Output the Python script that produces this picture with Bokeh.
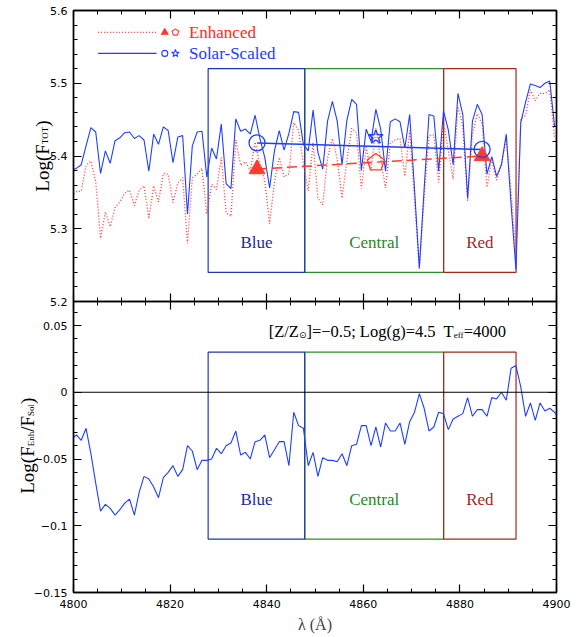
import numpy as np
from bokeh.plotting import figure
from bokeh.layouts import column
from bokeh.models import Range1d, LinearAxis, FixedTicker, Label, CustomJSTickFormatter, Span
from bokeh.core.properties import value
from bokeh.embed import file_html
from bokeh.resources import INLINE

# ------------------------------------------------------------------ data
wavelength = np.arange(4799.6, 4900.7, 1.0)   # 1 A sampling grid

flux_solar = [
    5.380, 5.383, 5.388, 5.414, 5.439, 5.433, 5.376, 5.407, 5.390, 5.421,
    5.425, 5.432, 5.433, 5.424, 5.428, 5.422, 5.379, 5.430, 5.416, 5.440,
    5.435, 5.391, 5.426, 5.428, 5.320, 5.414, 5.433, 5.434, 5.371, 5.411,
    5.396, 5.444, 5.362, 5.355, 5.451, 5.434, 5.437, 5.430, 5.456, 5.424,
    5.398, 5.356, 5.407, 5.435, 5.408, 5.431, 5.461, 5.460, 5.416, 5.407,
    5.463, 5.405, 5.382, 5.448, 5.475, 5.448, 5.388, 5.449, 5.478, 5.471,
    5.380, 5.437, 5.420, 5.464, 5.437, 5.379, 5.447, 5.451, 5.447, 5.411,
    5.457, 5.355, 5.246, 5.355, 5.457, 5.455, 5.379, 5.462, 5.436, 5.388,
    5.486, 5.457, 5.342, 5.448, 5.471, 5.457, 5.375, 5.399, 5.372, 5.388,
    5.430, 5.333, 5.244, 5.446, 5.474, 5.499, 5.497, 5.494, 5.500, 5.503,
    5.441, 5.439]

flux_enhanced = [
    5.345, 5.351, 5.352, 5.387, 5.393, 5.365, 5.287, 5.323, 5.303, 5.329,
    5.337, 5.349, 5.353, 5.332, 5.353, 5.359, 5.314, 5.359, 5.337, 5.376,
    5.375, 5.336, 5.363, 5.370, 5.280, 5.370, 5.375, 5.383, 5.320, 5.361,
    5.354, 5.398, 5.322, 5.317, 5.422, 5.387, 5.392, 5.380, 5.419, 5.388,
    5.366, 5.307, 5.364, 5.398, 5.371, 5.376, 5.446, 5.435, 5.389, 5.352,
    5.418, 5.342, 5.333, 5.397, 5.424, 5.396, 5.342, 5.394, 5.438, 5.432,
    5.355, 5.412, 5.380, 5.438, 5.396, 5.356, 5.418, 5.422, 5.424, 5.372,
    5.435, 5.340, 5.245, 5.343, 5.428, 5.429, 5.364, 5.446, 5.408, 5.368,
    5.468, 5.441, 5.338, 5.430, 5.458, 5.444, 5.357, 5.395, 5.367, 5.388,
    5.424, 5.351, 5.264, 5.450, 5.456, 5.491, 5.476, 5.486, 5.486, 5.491,
    5.426, 5.419]

log_ratio = [
    -0.035, -0.032, -0.036, -0.027, -0.046, -0.068, -0.089, -0.084, -0.087, -0.092,
    -0.088, -0.083, -0.080, -0.092, -0.075, -0.063, -0.065, -0.071, -0.079, -0.064,
    -0.060, -0.055, -0.063, -0.058, -0.040, -0.044, -0.058, -0.051, -0.051, -0.050,
    -0.042, -0.046, -0.040, -0.038, -0.029, -0.047, -0.045, -0.050, -0.037, -0.036,
    -0.032, -0.049, -0.043, -0.037, -0.037, -0.055, -0.015, -0.025, -0.027, -0.055,
    -0.045, -0.063, -0.049, -0.051, -0.051, -0.052, -0.046, -0.055, -0.040, -0.039,
    -0.025, -0.025, -0.040, -0.026, -0.041, -0.023, -0.029, -0.029, -0.023, -0.039,
    -0.022, -0.015, -0.001, -0.012, -0.029, -0.026, -0.015, -0.016, -0.028, -0.020,
    -0.018, -0.016, -0.004, -0.018, -0.013, -0.013, -0.018, -0.004, -0.005, 0.000,
    -0.006, 0.018, 0.020, 0.004, -0.018, -0.008, -0.021, -0.008, -0.014, -0.012,
    -0.015, -0.020]

band_names = ["Blue", "Central", "Red"]
band_lo = [4827.875, 4847.875, 4876.625]
band_hi = [4847.875, 4876.625, 4891.625]

cont_wave = [4838.0, 4884.6]
cont_solar = [5.418, 5.409]
cont_enhanced = [5.382, 5.400]
central_wave = [4862.6]
central_solar = [5.426]
central_enhanced = [5.391]

x_ticks = [4800, 4820, 4840, 4860, 4880, 4900]
x_tick_labels = ["4800", "4820", "4840", "4860", "4880", "4900"]
top_ticks = [5.2, 5.3, 5.4, 5.5, 5.6]
top_tick_labels = ["5.2", "5.3", "5.4", "5.5", "5.6"]
bot_ticks = [-0.15, -0.1, -0.05, 0.0, 0.05]
bot_tick_labels = ["\u22120.15", "\u22120.1", "\u22120.05", "0", "0.05"]

# ------------------------------------------------------------------ style / layout
BLUE = "#1f3fff"
RED = "#ff3b2f"
BAND_EDGE = ["#2236b0", "#2a8f2a", "#a3291e"]
BAND_TEXT = ["#1b2a9c", "#1e8a1e", "#a3291e"]
SERIF = "Liberation Serif"
LEFT, RIGHT, TOP_B, MID_B, BOT_B = 73, 16, 10, 8, 42
FRAME_W, TOP_H, BOT_H = 483, 291, 291
X0, X1 = 4800, 4900
TOP_R = (5.2, 5.6)
BOT_R = (-0.15, 0.068)
PXX = FRAME_W / (X1 - X0)
PXY_T = TOP_H / (TOP_R[1] - TOP_R[0])
PXY_B = BOT_H / (BOT_R[1] - BOT_R[0])
W_ALL = LEFT + FRAME_W + RIGHT
H_ALL = TOP_B + TOP_H + BOT_H + BOT_B

TW = {'[': .333, ']': .333, 'Z': .611, '/': .278, '=': .564, '\u2212': .564,
      '.': .25, ';': .278, ' ': .25, 'L': .611, 'o': .5, 'g': .5, '(': .333,
      ')': .333, 'T': .611, 'e': .444, 'f': .333, 'F': .556, 'O': .722,
      'E': .611, 'n': .5, 'h': .5, 'S': .556, 'l': .278, '\u2299': .838}


def text_w(s, size):
    return sum(TW.get(c, 0.5) for c in s) * size


def hrun(fig, x, y, pieces):
    pos = 0.0
    for t, sz, shift, font, gap in pieces:
        pos += gap
        fig.add_layout(Label(x=x, y=y, x_offset=pos, y_offset=shift, text=t,
                             text_font=font, text_font_size=f"{sz}px",
                             text_align="left", text_baseline="alphabetic",
                             text_color="black"))
        pos += text_w(t, sz)


def vrun(fig, x_base, y_center_page, pieces):
    total = sum(text_w(t, sz) + gap for t, sz, _, _, gap in pieces)
    yp = y_center_page + total / 2
    for t, sz, shift, font, gap in pieces:
        yp -= gap
        fig.text(x=[x_base - shift], y=[H_ALL - yp], text=[t], angle=np.pi / 2,
                 text_font=value(font), text_font_size=f"{sz}px", text_align="left",
                 text_baseline="alphabetic", text_color="black")
        yp -= text_w(t, sz)


def make_axis(ticks, minor, labels=None, axis_label=None):
    ax = LinearAxis(ticker=FixedTicker(ticks=ticks, minor_ticks=minor))
    ax.major_tick_in, ax.major_tick_out = 8, 0
    ax.minor_tick_in, ax.minor_tick_out = 4, 0
    ax.axis_line_color = "black"
    ax.axis_line_width = 1.4
    ax.major_tick_line_width = 1.2
    ax.minor_tick_line_width = 1.0
    if labels is None:
        ax.formatter = CustomJSTickFormatter(code="return ''")
        ax.major_label_text_font_size = "0px"
        ax.major_label_standoff = 0
    else:
        ax.major_label_overrides = dict(zip(ticks, labels))
        ax.major_label_text_font = "DejaVu Sans"
        ax.major_label_text_font_size = "11px"
        ax.major_label_text_color = "black"
        ax.major_label_standoff = 6
    if axis_label:
        ax.axis_label = axis_label
        ax.axis_label_text_font = SERIF
        ax.axis_label_text_font_size = "16px"
        ax.axis_label_text_font_style = "normal"
        ax.axis_label_standoff = 5
    return ax


def base_fig(yr, fh, top_border, bottom_border):
    p = figure(x_range=xr, y_range=Range1d(*yr), frame_width=FRAME_W, frame_height=fh,
               min_border_left=LEFT, min_border_right=RIGHT, min_border_top=top_border,
               min_border_bottom=bottom_border, x_axis_location=None, y_axis_location=None,
               output_backend="svg", toolbar_location=None,
               background_fill_color="white", border_fill_color=None,
               outline_line_color="black", outline_line_width=1.4)
    p.xgrid.visible = False
    p.ygrid.visible = False
    return p


def pentagon(fig, xc, yc, r, pxy, **kw):
    ang = np.pi / 2 + np.arange(5) * 2 * np.pi / 5
    fig.patch(xc + r * np.cos(ang) / PXX, yc + r * np.sin(ang) / pxy, **kw)


xr = Range1d(X0, X1)
x_minor = [X0 + 5 * i for i in range(21)]

# ------------------------------------------------------------------ background text layer
lab = figure(width=W_ALL, height=H_ALL, x_range=Range1d(0, W_ALL), y_range=Range1d(0, H_ALL),
             min_border=0, x_axis_location=None, y_axis_location=None,
             output_backend="svg", toolbar_location=None, outline_line_color=None,
             background_fill_color="white", border_fill_color="white")
lab.xgrid.visible = False
lab.ygrid.visible = False

# ------------------------------------------------------------------ top panel
top = base_fig(TOP_R, TOP_H, TOP_B, MID_B)
t_minor = [round(5.2 + 0.02 * i, 3) for i in range(21)]
top.add_layout(make_axis(top_ticks, t_minor, top_tick_labels), "left")
top.add_layout(make_axis(top_ticks, t_minor), "right")
top.add_layout(make_axis(x_ticks, x_minor), "above")
top.add_layout(make_axis(x_ticks, x_minor), "below")

top.quad(left=band_lo[1:2], right=band_hi[1:2], bottom=5.24, top=5.52, fill_color=None,
         line_color=BAND_EDGE[1], line_width=1.2)
top.quad(left=[band_lo[0], band_lo[2]], right=[band_hi[0], band_hi[2]], bottom=5.24, top=5.52,
         fill_color=None, line_color=[BAND_EDGE[0], BAND_EDGE[2]], line_width=1.2)
top.text(x=[(a + b) / 2 for a, b in zip(band_lo, band_hi)], y=[5.281] * 3, text=band_names,
         text_color=BAND_TEXT, text_font=value(SERIF), text_font_size="17px",
         text_align="center", text_baseline="middle")

top.line(wavelength, flux_enhanced, line_color=RED, line_dash="1 2", line_width=1.3)
top.line(wavelength, flux_solar, line_color=BLUE, line_width=1.1)

top.line(cont_wave, cont_enhanced, line_color=RED, line_dash="10 5", line_width=1.5)
top.line(cont_wave, cont_solar, line_color=BLUE, line_width=1.5)
top.scatter(cont_wave, cont_enhanced, marker="triangle", size=16, fill_color=RED, line_color=RED)
top.scatter(cont_wave, cont_solar, marker="circle", size=16, fill_color=None, line_color=BLUE,
            line_width=1.3)
top.scatter(central_wave, central_solar, marker="star", size=15, fill_color=None,
            line_color=BLUE, line_width=1.3)
pentagon(top, central_wave[0], central_enhanced[0], 9, PXY_T, fill_color=None,
         line_color=RED, line_width=1.3)

# legend (manual)
LEG_LINE = (4805.1, 4817.2)
LEG_Y = (5.570, 5.541)
LEG_M1, LEG_M2, LEG_TX = 4818.9, 4821.1, 4823.9
top.line(list(LEG_LINE), [LEG_Y[0]] * 2, line_color=RED, line_dash="1 2", line_width=1.3)
top.line(list(LEG_LINE), [LEG_Y[1]] * 2, line_color=BLUE, line_width=1.3)
top.scatter([LEG_M1], [LEG_Y[0]], marker="triangle", size=7, fill_color=RED, line_color=RED)
pentagon(top, LEG_M2, LEG_Y[0], 3.5, PXY_T, fill_color=None, line_color=RED, line_width=1.1)
top.scatter([LEG_M1], [LEG_Y[1]], marker="circle", size=6, fill_color=None, line_color=BLUE,
            line_width=1.1)
top.scatter([LEG_M2], [LEG_Y[1]], marker="star", size=8, fill_color=None, line_color=BLUE,
            line_width=1.1)
top.add_layout(Label(x=LEG_TX, y=LEG_Y[0], text="Enhanced", text_font=SERIF,
                     text_font_size="17px", text_color="#ff2a1a", text_baseline="middle"))
top.add_layout(Label(x=LEG_TX, y=LEG_Y[1], text="Solar-Scaled", text_font=SERIF,
                     text_font_size="17px", text_color="#1a3cff", text_baseline="middle"))

# ------------------------------------------------------------------ bottom panel
bot = base_fig(BOT_R, BOT_H, 0, BOT_B)
bot.margin = (-MID_B, 0, 0, 0)
b_minor = [round(-0.15 + 0.01 * i, 3) for i in range(23)]
bot.add_layout(make_axis(bot_ticks, b_minor, bot_tick_labels), "left")
bot.add_layout(make_axis(bot_ticks, b_minor), "right")
bot.add_layout(make_axis(x_ticks, x_minor), "above")
bx = make_axis(x_ticks, x_minor, x_tick_labels, axis_label="\u03bb (\u00c5)")
bx.major_label_standoff = 7
bot.add_layout(bx, "below")

bot.quad(left=band_lo[1:2], right=band_hi[1:2], bottom=-0.11, top=0.03, fill_color=None,
         line_color=BAND_EDGE[1], line_width=1.2)
bot.quad(left=[band_lo[0], band_lo[2]], right=[band_hi[0], band_hi[2]], bottom=-0.11, top=0.03,
         fill_color=None, line_color=[BAND_EDGE[0], BAND_EDGE[2]], line_width=1.2)
bot.text(x=[(a + b) / 2 for a, b in zip(band_lo, band_hi)], y=[-0.08] * 3, text=band_names,
         text_color=BAND_TEXT, text_font=value(SERIF), text_font_size="17px",
         text_align="center", text_baseline="middle")
bot.add_layout(Span(location=0, dimension="width", line_color="black", line_width=1.2))
bot.line(wavelength, log_ratio, line_color=BLUE, line_width=1.1)

hrun(bot, 4840.4, 0.0459,
     [("[Z/Z", 16.5, 0, SERIF, 0), ("\u2299", 9, -4, "DejaVu Sans", 0),
      ("]=\u22120.5; Log(g)=4.5", 16.5, 0, SERIF, 0), ("T", 16.5, 0, SERIF, 8),
      ("eff", 9, -4, SERIF, 0), ("=4000", 16.5, 0, SERIF, 0)])

# ------------------------------------------------------------------ y-axis titles (text layer)
y_top_c = TOP_B + (TOP_R[1] - 5.4) * PXY_T
y_bot_c = TOP_B + TOP_H + (BOT_R[1] - (-0.04)) * PXY_B
vrun(lab, 41.7, y_top_c,
     [("Log(F", 19, 0, SERIF, 0), ("TOT", 9, -3, SERIF, 0), (")", 19, 0, SERIF, 0)])
vrun(lab, 27.0, y_bot_c,
     [("Log(F", 19, 0, SERIF, 0), ("Enh", 9, -3, SERIF, 0), ("/F", 19, 0, SERIF, 0),
      ("Sol", 9, -3, SERIF, 0), (")", 19, 0, SERIF, 0)])

panels = column(top, bot, margin=(-H_ALL, 0, 0, 0))
layout = column(lab, panels)
open("out.html", "w").write(file_html(layout, INLINE))
